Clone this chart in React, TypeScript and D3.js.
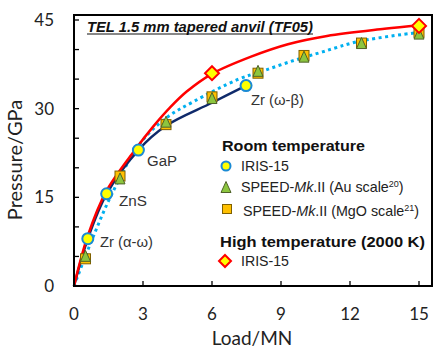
import React from "react";
import * as d3 from "d3";

const W = 442, H = 353;
const xTicks = [0, 3, 6, 9, 12, 15];
const yTickLabels = [0, 15, 30, 45];
const yMinorTicks = [5, 10, 15, 20, 25, 30, 35, 40, 45];

// Room temperature, IRIS-15 (calibrants)
const irisLoad = [0.6, 1.42, 2.8, 7.48];
const irisP = [8.0, 15.6, 23.0, 33.9];
const irisNames = ["Zr (α-ω)", "ZnS", "GaP", "Zr (ω-β)"];
// SPEED-Mk.II Au scale
const auLoad = [0.5, 2, 4, 6, 8, 10, 12.5, 15];
const auP = [5.1, 18.2, 27.8, 31.8, 36.4, 38.8, 41.1, 42.7];
// SPEED-Mk.II MgO scale
const mgoLoad = [0.5, 2, 4, 6, 8, 10, 12.5, 15];
const mgoP = [4.6, 18.6, 27.3, 32.0, 36.0, 39.0, 41.1, 42.9];
// High temperature IRIS-15
const htLoad = [6, 15];
const htP = [36.0, 44.0];

// fitted curves
const redLoad = [0, 0.6, 1.4, 2.65, 3.45, 4.2, 4.9, 6, 7.7, 9.3, 11, 13.5, 15];
const redP = [0, 8.5, 16.0, 23.0, 27.0, 30.3, 32.9, 35.9, 38.8, 40.9, 42.3, 43.5, 44.1];
const navyLoad = [0, 0.6, 1.42, 2.8, 4, 6, 7.48];
const navyP = [0, 8.0, 15.6, 23.0, 27.1, 31.0, 33.9];
const dotLoad = [0, 0.8, 1.65, 2.87, 4, 5.2, 7.1, 8.3, 9.6, 10.8, 12.4, 15];
const dotP = [0, 8, 15.6, 24.1, 28.4, 31.2, 34.9, 36.5, 38.2, 39.6, 41.4, 42.9];

const L = 74, R = 432, T = 15, B = 286;
const x = d3.scaleLinear().domain([0, 15]).range([74, 419]);
const y = d3.scaleLinear().domain([0, 45]).range([286, 20]);

const line = d3.line<[number, number]>().x(d => x(d[0])).y(d => y(d[1])).curve(d3.curveCatmullRom.alpha(0.5));
const zip = (a: number[], b: number[]) => a.map((v, i) => [v, b[i]] as [number, number]);

const BLUE = "#1a8ad4";
const TICKF = "Lato, 'Open Sans', sans-serif";
const ARIAL = "'Liberation Sans', Arial, sans-serif";

function Circle({ cx, cy, r }: { cx: number; cy: number; r: number }) {
  return <circle cx={cx} cy={cy} r={r} fill="#ffff00" stroke={BLUE} strokeWidth={2} />;
}
function Tri({ cx, cy, s }: { cx: number; cy: number; s: number }) {
  const h = s * 1.1;
  return <path d={`M${cx},${cy - h / 2}L${cx + s / 2},${cy + h / 2}L${cx - s / 2},${cy + h / 2}Z`} fill="#8cc63f" stroke="#4f6228" strokeWidth={1} />;
}
function Sq({ cx, cy, s }: { cx: number; cy: number; s: number }) {
  return <rect x={cx - s / 2} y={cy - s / 2} width={s} height={s} fill="#ffc000" stroke="#7f6000" strokeWidth={1} />;
}
function Dia({ cx, cy, r }: { cx: number; cy: number; r: number }) {
  return <path d={`M${cx},${cy - r}L${cx + r},${cy}L${cx},${cy + r}L${cx - r},${cy}Z`} fill="#ffff00" stroke="#ff0000" strokeWidth={2} />;
}

const annPos = [[100, 247], [119, 205.5], [147, 165.5], [251, 105]];
const annLen = [53, 28, 30, 53];

export default function App() {
  return (
    <svg width={W} height={H} style={{ position: "absolute", left: 0, top: 0, background: "#fff" }}>
      <rect x={0} y={0} width={W} height={H} fill="#fff" />
      {/* curves */}
      <path d={line(zip(dotLoad, dotP)) || ""} fill="none" stroke="#00b0f0" strokeWidth={3} strokeDasharray="3 3.5" />
      <path d={line(zip(navyLoad, navyP)) || ""} fill="none" stroke="#0f2a6b" strokeWidth={2.5} />
      <path d={line(zip(redLoad, redP)) || ""} fill="none" stroke="#ff0000" strokeWidth={2.5} />
      {/* markers */}
      {mgoLoad.map((l, i) => <Sq key={"s" + i} cx={x(l)} cy={y(mgoP[i])} s={10} />)}
      {auLoad.map((l, i) => <Tri key={"t" + i} cx={x(l)} cy={y(auP[i])} s={10} />)}
      {irisLoad.map((l, i) => <Circle key={"c" + i} cx={x(l)} cy={y(irisP[i])} r={5.5} />)}
      {htLoad.map((l, i) => <Dia key={"d" + i} cx={x(l)} cy={y(htP[i])} r={7} />)}
      {/* annotations */}
      {irisNames.map((n, i) => (
        <text key={"a" + i} x={annPos[i][0]} y={annPos[i][1]} fontFamily={ARIAL} fontSize={14} fill="#333"
          textLength={annLen[i]} lengthAdjust="spacingAndGlyphs">{n}</text>
      ))}
      {/* frame */}
      <rect x={L} y={T} width={R - L} height={B - T} fill="none" stroke="#000" strokeWidth={2} />
      {yMinorTicks.map(v => <line key={"yt" + v} x1={L} x2={L + 5} y1={y(v)} y2={y(v)} stroke="#000" strokeWidth={1.3} />)}
      {xTicks.slice(1).map(v => <line key={"xt" + v} x1={x(v)} x2={x(v)} y1={B} y2={B - 5} stroke="#000" strokeWidth={1.3} />)}
      {yTickLabels.map(v => <text key={"yl" + v} x={54} y={y(v) + 6} textAnchor="end" fontFamily={TICKF} fontSize={17} fill="#222">{v}</text>)}
      {xTicks.map(v => <text key={"xl" + v} x={x(v)} y={320} textAnchor="middle" fontFamily={TICKF} fontSize={17} fill="#222">{v}</text>)}
      <text x={252} y={345} textAnchor="middle" fontFamily={TICKF} fontSize={19} fill="#222">Load/MN</text>
      <text transform="translate(22,160) rotate(-90)" textAnchor="middle" fontFamily={TICKF} fontSize={20} fill="#222">Pressure/GPa</text>
      {/* title */}
      <text x={87} y={31.5} fontFamily={ARIAL} fontSize={14} fontWeight="bold" fontStyle="italic" fill="#111"
        textLength={226} lengthAdjust="spacingAndGlyphs">TEL 1.5 mm tapered anvil (TF05)</text>
      <line x1={87} x2={313} y1={34} y2={34} stroke="#111" strokeWidth={1.2} />
      {/* legend */}
      <text x={222} y={151} fontFamily={ARIAL} fontSize={15} fontWeight="bold" fill="#111" textLength={143} lengthAdjust="spacingAndGlyphs">Room temperature</text>
      <Circle cx={226} cy={166} r={4.5} />
      <text x={241} y={171} fontFamily={ARIAL} fontSize={14} fill="#222" textLength={48} lengthAdjust="spacingAndGlyphs">IRIS-15</text>
      <Tri cx={226} cy={187} s={10} />
      <text x={241} y={192} fontFamily={ARIAL} fontSize={14.3} fill="#222">SPEED-<tspan fontStyle="italic">Mk</tspan>.II (Au scale<tspan fontSize={9} dy={-5}>20</tspan><tspan dy={5}>)</tspan></text>
      <Sq cx={227} cy={209} s={9} />
      <text x={243} y={216} fontFamily={ARIAL} fontSize={14.3} fill="#222">SPEED-<tspan fontStyle="italic">Mk</tspan>.II (MgO scale<tspan fontSize={9} dy={-5}>21</tspan><tspan dy={5}>)</tspan></text>
      <text x={220} y={247} fontFamily={ARIAL} fontSize={15} fontWeight="bold" fill="#111" textLength={205} lengthAdjust="spacingAndGlyphs">High temperature (2000 K)</text>
      <Dia cx={225} cy={261} r={6} />
      <text x={241} y={266} fontFamily={ARIAL} fontSize={14} fill="#222" textLength={48} lengthAdjust="spacingAndGlyphs">IRIS-15</text>
    </svg>
  );
}
